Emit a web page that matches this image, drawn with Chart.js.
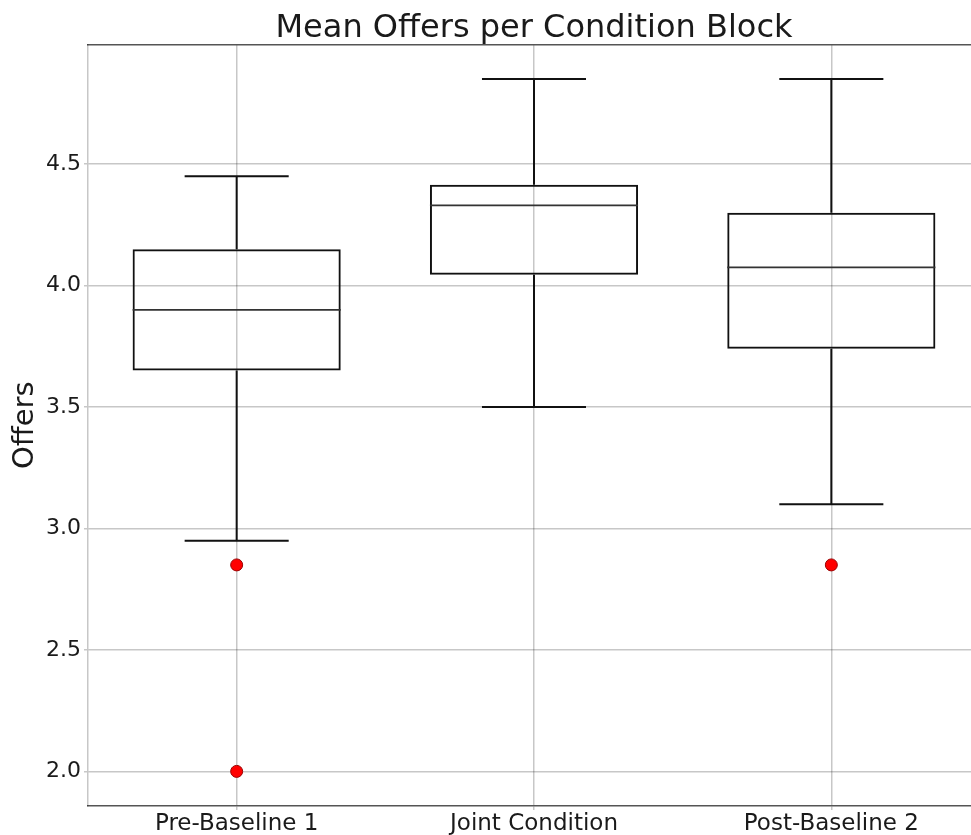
<!DOCTYPE html>
<html><head><meta charset="utf-8">
<script src="https://cdn.jsdelivr.net/npm/chart.js@4"></script>
<style>
html,body{margin:0;padding:0;background:#fff;overflow:hidden;}
#wrap{width:971px;height:835px;overflow:hidden;position:relative;background:#fff;}
canvas{display:block;}
</style></head><body>
<div id="wrap"><canvas id="c" width="987" height="835" style="width:987px;height:835px"></canvas></div>
<script>
// ---- data ----
const categories = ['Pre-Baseline 1', 'Joint Condition', 'Post-Baseline 2'];
const whiskerLow  = [2.95, 3.50, 3.10];
const q1          = [3.65, 4.045, 3.74];
const median      = [3.90, 4.33, 4.075];
const q3          = [4.15, 4.415, 4.30];
const whiskerHigh = [4.45, 4.85, 4.85];
const outliers    = [[2.85, 2.0], [], [2.85]];
const yTicks      = [2.0, 2.5, 3.0, 3.5, 4.0, 4.5];
const yRange      = [1.8575, 4.9925];

// ---- build ----
const FONT = 'DejaVu Sans';
const TXT = '#1a1a1a';
const GRID = 'rgba(0,0,0,0.22)';
const BOX_HALF = 0.35, CAP_HALF = 0.175;
const pos = categories.map((c, i) => i + 1);

const whiskerPts = [];
const medianPts = [];
pos.forEach((p, i) => {
  whiskerPts.push({x: p, y: q3[i]}, {x: p, y: whiskerHigh[i]}, {x: p, y: null});
  whiskerPts.push({x: p - CAP_HALF, y: whiskerHigh[i]}, {x: p + CAP_HALF, y: whiskerHigh[i]}, {x: p, y: null});
  whiskerPts.push({x: p, y: q1[i]}, {x: p, y: whiskerLow[i]}, {x: p, y: null});
  whiskerPts.push({x: p - CAP_HALF, y: whiskerLow[i]}, {x: p + CAP_HALF, y: whiskerLow[i]}, {x: p, y: null});
  medianPts.push({x: p - BOX_HALF, y: median[i]}, {x: p + BOX_HALF, y: median[i]}, {x: p, y: null});
});
const outlierPts = [];
pos.forEach((p, i) => outliers[i].forEach(v => outlierPts.push({x: p, y: v})));

new Chart(document.getElementById('c'), {
  type: 'bar',
  data: {
    datasets: [
      {
        type: 'bar', label: 'box',
        data: pos.map((p, i) => ({x: p, y: [q1[i], q3[i]]})),
        backgroundColor: 'rgba(0,0,0,0)', borderColor: '#111', borderWidth: 2,
        borderSkipped: false, barPercentage: 0.7, categoryPercentage: 1, order: 2
      },
      {
        type: 'line', label: 'whiskers', data: whiskerPts,
        borderColor: '#111', borderWidth: 2, pointRadius: 0, spanGaps: false,
        tension: 0, fill: false, order: 3
      },
      {
        type: 'line', label: 'median', data: medianPts,
        borderColor: '#333', borderWidth: 1.6, pointRadius: 0, spanGaps: false,
        tension: 0, fill: false, order: 1
      },
      {
        type: 'scatter', label: 'outliers', data: outlierPts,
        pointRadius: 6, backgroundColor: '#ff0000', borderColor: '#9a0000',
        borderWidth: 1, order: 0
      }
    ]
  },
  options: {
    responsive: false, animation: false, devicePixelRatio: 1,
    layout: {padding: 0},
    plugins: {
      legend: {display: false}, tooltip: {enabled: false},
      title: {
        display: true, text: 'Mean Offers per Condition Block', fullSize: false,
        color: TXT, font: {family: FONT, size: 32, weight: 'normal', lineHeight: 1.0},
        padding: {top: 12.5, bottom: 0}
      }
    },
    scales: {
      x: {
        type: 'linear', position: 'bottom', min: 0.5, max: 3.5, offset: false,
        afterBuildTicks: s => { s.ticks = pos.map(v => ({value: v})); },
        ticks: {
          callback: (v, i) => categories[i], color: TXT,
          font: {family: FONT, size: 23}, padding: 0, maxRotation: 0, autoSkip: false
        },
        grid: {color: GRID, lineWidth: 1.5, tickLength: 4, drawTicks: true, offset: false},
        border: {color: '#555', width: 1.5},
        afterFit: s => { s.height = 29; }
      },
      x2: {
        type: 'linear', position: 'top', min: 0.5, max: 3.5, display: true, offset: false,
        ticks: {display: false}, grid: {display: false, drawTicks: false},
        border: {display: true, color: '#555', width: 1.5},
        afterFit: s => { s.height = 0; }
      },
      y: {
        type: 'linear', min: yRange[0], max: yRange[1],
        afterBuildTicks: s => { s.ticks = yTicks.map(v => ({value: v})); },
        ticks: {
          callback: v => Number(v).toFixed(1), color: TXT,
          font: {family: FONT, size: 22}, padding: 3
        },
        grid: {color: GRID, lineWidth: 1.5, tickLength: 4, drawTicks: true},
        border: {color: GRID, width: 1.5},
        title: {
          display: true, text: 'Offers', color: TXT,
          font: {family: FONT, size: 29, weight: 'normal', lineHeight: 1.2},
          padding: {top: 8, bottom: 0}
        },
        afterFit: s => { s.width = 88; }
      }
    }
  }
});
</script>
</body></html>
